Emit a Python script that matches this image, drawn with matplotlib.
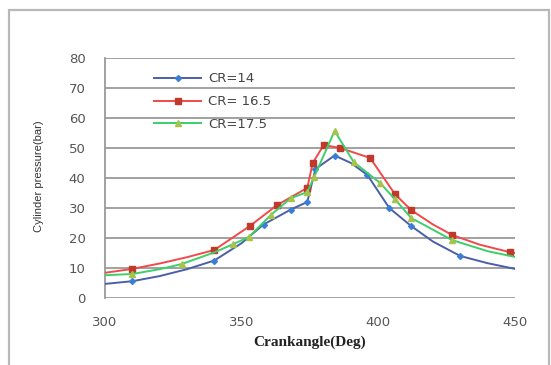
import matplotlib
matplotlib.use("Agg")
import matplotlib.pyplot as plt
from matplotlib.patches import Rectangle

# ---- data ----
x14 = [300, 310, 320, 330, 340, 350, 358, 368, 374, 377, 384, 390, 396, 404, 412, 420, 430, 440, 450]
y14 = [4.7, 5.6, 7.3, 9.6, 12.5, 18.3, 24.5, 29.5, 32.0, 43.0, 47.5, 45.0, 41.0, 30.0, 24.0, 18.8, 14.0, 11.6, 9.7]
m14 = [False, True, False, False, True, False, True, True, True, True, True, False, True, True, True, False, True, False, False]

x165 = [300, 310, 320, 330, 340, 353, 363, 374, 376, 380, 386, 397, 406, 412, 420, 427, 437, 448, 450]
y165 = [8.4, 9.7, 11.5, 13.6, 16.0, 24.0, 31.0, 36.7, 45.0, 51.0, 50.0, 46.7, 34.7, 29.3, 24.5, 21.0, 17.8, 15.3, 15.0]
m165 = [False, True, False, False, True, True, True, True, True, True, True, True, True, True, False, True, False, True, False]

x175 = [300, 310, 320, 328, 340, 347, 352.6, 360.7, 368, 374, 376.5, 384, 391, 400.7, 406, 412, 427, 440, 450]
y175 = [7.6, 8.0, 9.6, 11.3, 15.2, 18.0, 20.3, 27.7, 33.3, 35.3, 40.3, 55.7, 45.3, 38.3, 33.0, 26.7, 19.3, 15.6, 13.7]
m175 = [False, True, False, True, False, True, True, True, True, True, True, True, True, True, True, True, True, False, False]

labels = ["CR=14", "CR= 16.5", "CR=17.5"]
xticks = [300, 350, 400, 450]
yticks = [0, 10, 20, 30, 40, 50, 60, 70, 80]

fig = plt.figure(figsize=(5.51, 3.65), dpi=100)
fig.patches.append(Rectangle((9/551, -0.05), 540/551, 1 - 10/365 + 0.05,
                             transform=fig.transFigure, fill=False,
                             edgecolor="#b8b8b8", linewidth=1.6))
ax = fig.add_axes([105/551, 1 - 298/365, 410/551, 240/365])

series = [
    (x14, y14, m14, "#4a5fa8", "#3a7fd5", "D", 3.0),
    (x165, y165, m165, "#f04a4a", "#c0392b", "s", 4.6),
    (x175, y175, m175, "#3ccf6a", "#a6c44a", "^", 4.4),
]
for (xs, ys, ms, lc, mc, mk, sz), lab in zip(series, labels):
    ax.plot(xs, ys, color=lc, linewidth=1.4, marker=mk, markersize=sz,
            markerfacecolor=mc, markeredgecolor=mc, markevery=ms, label=lab,
            solid_joinstyle="round", zorder=3)

ax.set_xlim(300, 450)
ax.set_ylim(0, 80)
ax.set_xticks(xticks)
ax.set_yticks(yticks)
ax.yaxis.grid(True, color="#9a9a9a", linewidth=1.3)
ax.set_axisbelow(True)
for s in ["top", "right", "bottom"]:
    ax.spines[s].set_visible(False)
ax.spines["left"].set_color("#9a9a9a")
ax.spines["left"].set_linewidth(1.3)
ax.tick_params(axis="both", length=0, labelsize=9.5, labelcolor="#555555")
ax.tick_params(axis="y", pad=14)
ax.tick_params(axis="x", pad=13)
for t in ax.get_xticklabels() + ax.get_yticklabels():
    t.set_fontfamily("DejaVu Sans")

ax.set_xlabel("Crankangle(Deg)", fontfamily="Liberation Serif", fontweight="bold",
              fontsize=11, color="#222222", labelpad=5)
fig.text(39/551, 1 - 176/365, "Cylinder pressure(bar)", rotation=90,
         ha="center", va="center", fontfamily="Liberation Sans", fontsize=8,
         color="#333333")

leg = ax.legend(loc="upper left", bbox_to_anchor=(0.09, 0.99), frameon=False,
                handlelength=3.6, labelspacing=0.75, fontsize=9.5,
                labelcolor="#444444", handletextpad=0.5)

fig.savefig("out.png", dpi=100, facecolor="white")
